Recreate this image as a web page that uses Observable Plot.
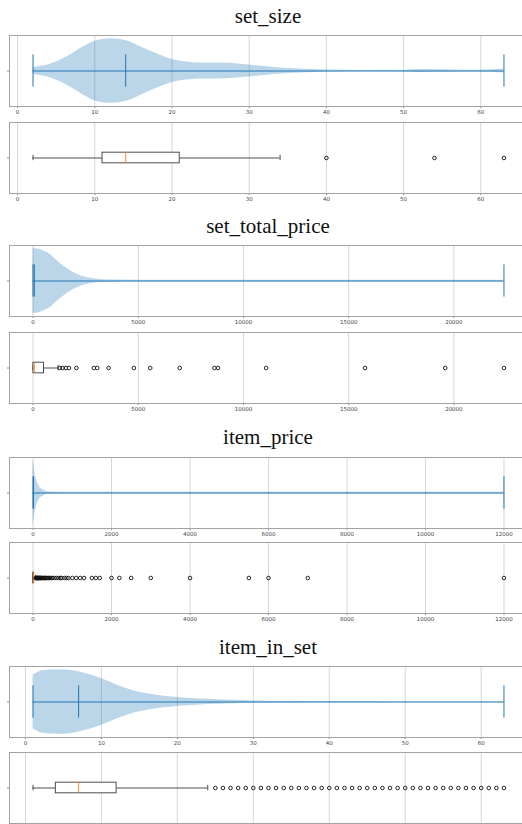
<!DOCTYPE html>
<html><head><meta charset="utf-8">
<script src="https://cdn.jsdelivr.net/npm/d3@7"></script>
<script src="https://cdn.jsdelivr.net/npm/@observablehq/plot@0.6"></script>
<style>
html,body{margin:0;padding:0;background:#fff;overflow:hidden;width:522px;height:824px;}
#root{position:relative;width:522px;height:824px;overflow:hidden;background:#fff;}
.title{position:absolute;left:0;width:536px;text-align:center;font-family:"Liberation Serif","DejaVu Serif",serif;font-size:21px;color:#111;line-height:21px;white-space:nowrap;}
.panel{position:absolute;left:0;max-width:none !important;}
</style></head><body><div id="root"></div>
<script>
// ---------- data ----------
const titles = ["set_size", "set_total_price", "item_price", "item_in_set"];

// tick values
const setSizeTicks = [0, 10, 20, 30, 40, 50, 60];
const setTotalPriceTicks = [0, 5000, 10000, 15000, 20000];
const itemPriceTicks = [0, 2000, 4000, 6000, 8000, 10000, 12000];
const itemInSetTicks = [0, 10, 20, 30, 40, 50, 60];

// violin outlines (value, normalized density)
const setSizeViolinX = [2, 4.2, 6.4, 8.5, 10, 12, 14.2, 16.3, 18.5, 20, 21.5, 23.7, 26.3, 28.9, 31, 33.6, 36.6, 40.1, 45.3, 49.6, 52.6, 54.8, 58.3, 60.9, 63];
const setSizeViolinD = [0.11, 0.21, 0.44, 0.74, 0.92, 1.0, 0.93, 0.71, 0.49, 0.36, 0.29, 0.245, 0.245, 0.21, 0.16, 0.10, 0.06, 0.03, 0.015, 0.02, 0.045, 0.04, 0.02, 0.03, 0.06];
const setTotalPriceViolinX = [0, 240, 480, 790, 1030, 1270, 1590, 2060, 2540, 3180, 3970, 4760, 6000, 8000, 10000, 14000, 18000, 22380];
const setTotalPriceViolinD = [1.0, 0.99, 0.93, 0.84, 0.70, 0.56, 0.40, 0.22, 0.11, 0.05, 0.03, 0.025, 0.025, 0.025, 0.02, 0.02, 0.02, 0.02];
const itemPriceViolinX = [0, 25, 50, 85, 130, 170, 255, 340, 510, 850, 1500, 3000, 6000, 12000];
const itemPriceViolinD = [1.0, 0.8, 0.6, 0.42, 0.27, 0.18, 0.10, 0.05, 0.03, 0.02, 0.02, 0.02, 0.02, 0.02];
const itemInSetViolinX = [1, 2.3, 4.1, 5.85, 7.6, 9.8, 12, 14.2, 16.4, 18.6, 20.8, 23, 25.2, 27.4, 30, 34, 40.6, 49.4, 63];
const itemInSetViolinD = [0.83, 0.97, 1.0, 0.98, 0.9, 0.74, 0.53, 0.35, 0.24, 0.17, 0.125, 0.094, 0.073, 0.052, 0.031, 0.02, 0.012, 0.008, 0.006];

// violin extrema + median [min, max, median]
const setSizeViolinStats = [2, 63, 14];
const setTotalPriceViolinStats = [0, 22380, 60];
const itemPriceViolinStats = [0, 12000, 12];
const itemInSetViolinStats = [1, 63, 7];

// box stats [low whisker, q1, median, q3, high whisker]
const setSizeBox = [2, 11, 14, 21, 34];
const setTotalPriceBox = [0, 20, 60, 520, 1190];
const itemPriceBox = [0, 5, 12, 30, 65];
const itemInSetBox = [1, 4, 7, 12, 24];

// outliers
const setSizeFliers = [40, 54, 63];
const setTotalPriceFliers = [1270, 1400, 1560, 1710, 2060, 2890, 3050, 3590, 4790, 5570, 6970, 8620, 8790, 11080, 15780, 19590, 22380];
const itemPriceFliers = [70, 80, 90, 100, 110, 120, 130, 140, 150, 160, 175, 190, 200, 215, 230, 250, 270, 290, 300, 320, 350, 380, 400, 430, 470, 500, 550, 600, 650, 700, 720, 800, 850, 900, 1000, 1100, 1200, 1300, 1500, 1600, 1700, 2000, 2200, 2500, 3000, 4000, 5500, 6000, 7000, 12000];
const itemInSetFliers = [25, 26, 27, 28, 29, 30, 31, 32, 33, 34, 35, 36, 37, 38, 39, 40, 41, 42, 43, 44, 45, 46, 47, 48, 49, 50, 51, 52, 53, 54, 55, 56, 57, 58, 59, 60, 61, 62, 63];

// ---------- layout ----------
const violinTops = [31, 241, 453, 662];
const boxTops = [118, 328, 538, 748];
const titleBaselines = [23.5, 234, 445, 655];

const W = 540, H = 91, ML = 9, MR = 13, MT = 4, MB = 16;
const GRID = "#d6d6d6", FRAME = "#a3a3a3", BLUE = "#1f77b4";

function padDomain(lo, hi) { const r = hi - lo; return [lo - 0.05 * r, hi + 0.05 * r]; }

function commonOpts(domain, ydomain) {
  return {
    width: W, height: H, marginLeft: ML, marginRight: MR, marginTop: MT, marginBottom: MB,
    x: {domain},
    y: {domain: ydomain},
    style: {fontFamily: "DejaVu Sans", fontSize: "5.5px", color: "#444", background: "transparent", overflow: "visible", maxWidth: "none"}
  };
}
function axes(ticks, ycenter, showLabels) {
  return [
    Plot.axisX(ticks, {tickSize: 2, tickPadding: 1.5, tickFormat: showLabels ? (d => String(d)) : (() => ""), label: null, stroke: "#888", fill: "#444"}),
    Plot.axisY([ycenter], {tickSize: 2, tickFormat: () => "", label: null, stroke: "#888"})
  ];
}

function violinPanel(xs, ds, stats, ticks) {
  const data = xs.map((x, i) => ({x, d: ds[i]}));
  const domain = padDomain(stats[0], stats[1]);
  const st = [{mn: stats[0], mx: stats[1]}];
  const bars = [stats[0], stats[1], stats[2]];
  return Plot.plot({
    ...commonOpts(domain, [-1.1, 1.1]),
    marks: [
      Plot.gridX(ticks, {stroke: GRID, strokeOpacity: 1}),
      Plot.areaY(data, {x: "x", y1: d => -d.d, y2: "d", fill: BLUE, fillOpacity: 0.3, curve: "monotone-x"}),
      Plot.ruleY(st, {x1: "mn", x2: "mx", y: 0, stroke: BLUE, strokeWidth: 1}),
      Plot.ruleX(bars, {x: d => d, y1: -0.5, y2: 0.5, stroke: BLUE, strokeWidth: 1}),
      ...axes(ticks, 0, true),
      Plot.frame({stroke: FRAME})
    ]
  });
}

function boxPanel(box, fliers, stats, ticks, showLabels) {
  const domain = padDomain(stats[0], stats[1]);
  const s = [{lo: box[0], q1: box[1], med: box[2], q3: box[3], hi: box[4]}];
  const K = "#3a3a3a";
  return Plot.plot({
    ...commonOpts(domain, [0.5, 1.5]),
    marks: [
      Plot.gridX(ticks, {stroke: GRID, strokeOpacity: 1}),
      Plot.ruleY(s, {x1: "lo", x2: "q1", y: 1, stroke: K, strokeWidth: 0.9}),
      Plot.ruleY(s, {x1: "q3", x2: "hi", y: 1, stroke: K, strokeWidth: 0.9}),
      Plot.ruleX(s, {x: "lo", y1: 0.9625, y2: 1.0375, stroke: K, strokeWidth: 0.9}),
      Plot.ruleX(s, {x: "hi", y1: 0.9625, y2: 1.0375, stroke: K, strokeWidth: 0.9}),
      Plot.rect(s, {x1: "q1", x2: "q3", y1: 0.925, y2: 1.075, fill: "#fff", stroke: K, strokeWidth: 0.9}),
      Plot.ruleX(s, {x: "med", y1: 0.925, y2: 1.075, stroke: "#ff7f0e", strokeWidth: 0.9}),
      Plot.dot(fliers, {x: d => d, y: 1, r: 1.8, stroke: "#111", strokeWidth: 0.9, fill: "none"}),
      ...axes(ticks, 1, showLabels),
      Plot.frame({stroke: FRAME})
    ]
  });
}

const sections = [
  {v: [setSizeViolinX, setSizeViolinD, setSizeViolinStats], box: setSizeBox, fl: setSizeFliers, ticks: setSizeTicks},
  {v: [setTotalPriceViolinX, setTotalPriceViolinD, setTotalPriceViolinStats], box: setTotalPriceBox, fl: setTotalPriceFliers, ticks: setTotalPriceTicks},
  {v: [itemPriceViolinX, itemPriceViolinD, itemPriceViolinStats], box: itemPriceBox, fl: itemPriceFliers, ticks: itemPriceTicks},
  {v: [itemInSetViolinX, itemInSetViolinD, itemInSetViolinStats], box: itemInSetBox, fl: itemInSetFliers, ticks: itemInSetTicks}
];

const root = document.getElementById("root");
sections.forEach((sec, i) => {
  const t = document.createElement("div");
  t.className = "title";
  t.textContent = titles[i];
  t.style.top = (titleBaselines[i] - 17.6) + "px";
  root.appendChild(t);

  const vp = violinPanel(sec.v[0], sec.v[1], sec.v[2], sec.ticks);
  vp.classList.add("panel");
  vp.style.top = violinTops[i] + "px";
  vp.style.position = "absolute";
  root.appendChild(vp);

  // the last panel's tick labels fall below the visible page in the reference
  const bp = boxPanel(sec.box, sec.fl, sec.v[2], sec.ticks, i < sections.length - 1);
  bp.classList.add("panel");
  bp.style.top = boxTops[i] + "px";
  bp.style.position = "absolute";
  root.appendChild(bp);
});
</script>
</body></html>
